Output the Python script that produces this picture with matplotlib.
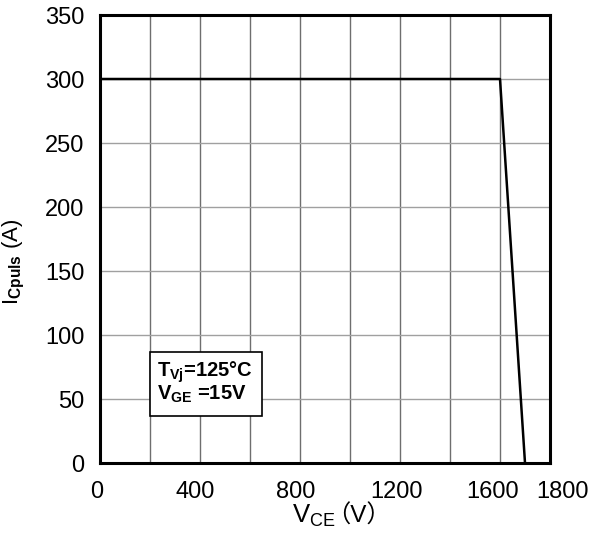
import matplotlib
matplotlib.use("Agg")
import matplotlib.pyplot as plt
from matplotlib.patches import Rectangle
from matplotlib.transforms import ScaledTranslation

plt.rcParams['font.family'] = ['Liberation Sans', 'Noto Sans CJK SC', 'DejaVu Sans']
plt.rcParams['mathtext.fontset'] = 'custom'
plt.rcParams['mathtext.rm'] = 'Liberation Sans'
plt.rcParams['mathtext.it'] = 'Liberation Sans:italic'
plt.rcParams['mathtext.bf'] = 'Liberation Sans:bold'

# RBSOA boundary
vce = [0, 1600, 1700]
ic_puls = [300, 300, 0]

x_ticks = [0, 400, 800, 1200, 1600, 1800]
y_ticks = [0, 50, 100, 150, 200, 250, 300, 350]
x_grid = [200, 400, 600, 800, 1000, 1200, 1400, 1600]
y_grid = [50, 100, 150, 200, 250, 300]

fig = plt.figure(figsize=(5.9, 5.37), dpi=100)
ax = fig.add_axes([100 / 590, 74 / 537, 450 / 590, 448 / 537])

for gx in x_grid:
    ax.axvline(gx, color='#6e6e6e', lw=1.0, zorder=1)
for gy in y_grid:
    ax.axhline(gy, color='#a0a0a0', lw=1.0, zorder=1)

ax.plot(vce, ic_puls, color='black', lw=1.8, zorder=3)

ax.set_xlim(0, 1800)
ax.set_ylim(0, 350)
ax.set_xticks(x_ticks)
ax.set_yticks(y_ticks)
ax.tick_params(length=0, labelsize=17)
ax.tick_params(axis='x', pad=13)
ax.tick_params(axis='y', pad=11)
for s in ax.spines.values():
    s.set_linewidth(2.2)

# nudge a few x labels the way they sit on the sheet
shifts = {0: -3, 400: -5, 800: -4, 1200: -3, 1600: -7, 1800: 12}
for val, lab in zip(x_ticks, ax.get_xticklabels()):
    lab.set_transform(lab.get_transform() +
                      ScaledTranslation(shifts[val] / 100, 0, fig.dpi_scale_trans))

# axis labels
ax.set_ylabel(r'$\mathrm{I}_{\mathbf{Cpuls}}$ (A)', fontsize=16)
ax.yaxis.set_label_coords(-0.163, 0.45)

base_y = (537 - 523) / 537
fig.text(336 / 590, base_y, r'$\mathregular{V_{CE}}$', fontsize=18.5,
         ha='right', va='baseline')
# full-width brackets come from the CJK font, the V from Liberation
fig.text(326 / 590, base_y, '（V）', fontsize=17.5,
         family=['Liberation Sans', 'Noto Sans CJK SC'], ha='left', va='baseline')

# condition box
ax.add_patch(Rectangle((50 / 450, 47 / 448), 112 / 450, 64 / 448,
                       transform=ax.transAxes, fc='white', ec='black',
                       lw=1.2, zorder=4))
ax.text(57 / 450, 63 / 448,
        r'$\mathregular{T_{Vj}}$=125°C' + '\n' + r'$\mathregular{V_{GE}}$ =15V',
        transform=ax.transAxes, fontsize=14.5, fontweight='bold',
        ha='left', va='baseline', linespacing=0.95, zorder=5)

fig.savefig('out.png', dpi=100)
